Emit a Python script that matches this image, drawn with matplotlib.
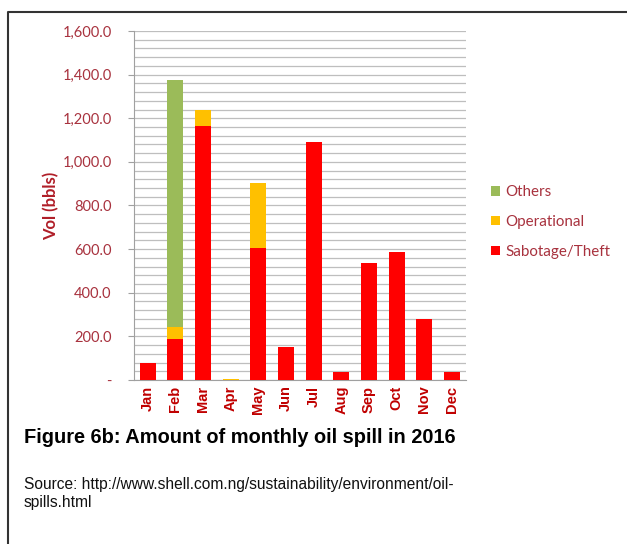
import matplotlib
matplotlib.use("Agg")
import matplotlib.pyplot as plt
from matplotlib.ticker import MultipleLocator, FuncFormatter

months = ["Jan", "Feb", "Mar", "Apr", "May", "Jun",
          "Jul", "Aug", "Sep", "Oct", "Nov", "Dec"]
sabotage = [80, 190, 1165, 0, 605, 153, 1093, 35, 535, 587, 280, 38]
operational = [0, 55, 75, 4, 300, 0, 0, 0, 0, 0, 0, 0]
others = [0, 1130, 0, 0, 0, 0, 0, 0, 0, 0, 0, 0]

red = "#FF0000"
yellow = "#FFC000"
green = "#9BBB59"
label_red = "#A8323E"


def fmt(v, pos):
    if v == 0:
        return "-"
    return "{:,.1f}".format(v)


def main():
    fig = plt.figure(figsize=(6.27, 5.44), dpi=100)
    ax = fig.add_axes([0.2137, 0.3015, 0.529, 0.6415])

    x = list(range(len(months)))
    bottom2 = [a + b for a, b in zip(sabotage, operational)]
    w = 0.58
    ax.bar(x, sabotage, w, color=red, label="Sabotage/Theft", zorder=3)
    ax.bar(x, operational, w, bottom=sabotage, color=yellow,
           label="Operational", zorder=3)
    ax.bar(x, others, w, bottom=bottom2, color=green, label="Others",
           zorder=3)

    ax.set_xlim(-0.5, 11.5)
    ax.set_ylim(0, 1600)
    ax.yaxis.set_major_locator(MultipleLocator(200))
    ax.yaxis.set_minor_locator(MultipleLocator(40))
    ax.yaxis.set_major_formatter(FuncFormatter(fmt))
    ax.grid(axis="y", which="both", color="#BEBEBE", linewidth=0.9,
            zorder=0)
    for s in ["top", "right"]:
        ax.spines[s].set_visible(False)
    ax.spines["left"].set_color("#A0A0A0")
    ax.spines["bottom"].set_color("#A0A0A0")
    ax.tick_params(axis="y", which="major", length=4, color="#A0A0A0",
                   labelsize=10.5, labelcolor=label_red, pad=12)
    ax.tick_params(axis="y", which="minor", length=0)
    ax.tick_params(axis="x", length=0, pad=4)
    for t in ax.get_yticklabels():
        t.set_family("Lato")

    ax.set_xticks(x)
    ax.set_xticklabels(months, rotation=90, fontsize=10.5, color="#C00000",
                       family="Liberation Sans", fontweight="bold")

    ax.set_ylabel("Vol (bbls)", fontsize=12, fontweight="bold",
                  color="#B01E28", family="Lato", labelpad=2)

    h, l = ax.get_legend_handles_labels()
    leg = fig.legend(h[::-1], l[::-1], loc="center left",
                     bbox_to_anchor=(0.762, 0.592), frameon=False,
                     prop={"family": "Lato", "size": 10.9},
                     handlelength=0.6, handleheight=0.6,
                     handletextpad=0.3, labelspacing=1.05)
    for t in leg.get_texts():
        t.set_color(label_red)

    fig.text(0.038, 0.195, "Figure 6b: Amount of monthly oil spill in 2016",
             fontsize=14.4, fontweight="bold", family="Liberation Sans",
             color="black", va="center")
    fig.text(0.038, 0.093,
             "Source: http://www.shell.com.ng/sustainability/environment/oil-\nspills.html",
             fontsize=11.2, family="Liberation Sans", color="#111111",
             va="center", linespacing=1.3)

    # outer frame (left and top only visible)
    frame = plt.Line2D([0.013, 0.013, 1.0], [0.0, 0.978, 0.978],
                       transform=fig.transFigure, color="#333333",
                       linewidth=1.5)
    fig.add_artist(frame)

    fig.savefig("out.png", dpi=100)
    plt.close()


if __name__ == "__main__":
    main()
